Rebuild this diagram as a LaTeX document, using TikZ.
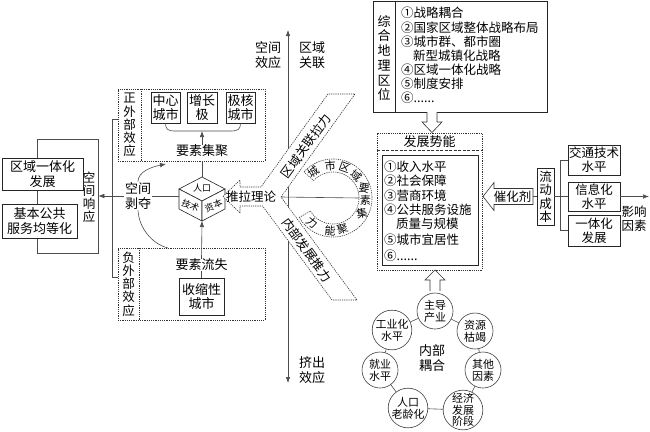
\documentclass[tikz,border=0pt]{standalone}
\usepackage{fontspec}
\setmainfont{Noto Sans CJK SC}
\usetikzlibrary{arrows.meta,calc}
\newcommand{\fA}{\fontsize{13}{14.5}\selectfont}
\newcommand{\fB}{\fontsize{12.5}{14}\selectfont}
\newcommand{\fC}{\fontsize{11}{12}\selectfont}
\newcommand{\fD}{\fontsize{9}{10}\selectfont}
\newcommand{\fV}{\fontsize{12.5}{13.2}\selectfont}
\begin{document}
\begin{tikzpicture}[x=1pt,y=-1pt,
  ln/.style={draw=black!70, line width=0.6pt},
  bx/.style={draw=black!85, line width=0.6pt, fill=white, inner sep=0pt, align=center, font=\fA},
  dotbox/.style={draw=black!80, line width=0.6pt, dash pattern=on 1.2pt off 1pt, inner sep=0pt},
  dotline/.style={draw=black!80, line width=0.6pt, dash pattern=on 1.2pt off 1pt},
  lbl/.style={inner sep=0pt, align=center, font=\fA},
  item/.style={inner sep=0pt, anchor=west, font=\fB},
  circ/.style={circle, draw=black!75, line width=0.6pt, minimum size=36pt, inner sep=0pt, align=center, font=\fC, fill=white},
  arr/.style={-{Latex[length=6pt,width=4.5pt]}},
  ring/.style={inner sep=0pt, font=\fC}
]
\useasboundingbox (0,0) rectangle (650,431);
\fill[white] (0,0) rectangle (650,431);

% ---------- left: spatial response ----------
\node[draw=black!70, line width=0.6pt, minimum width=61, minimum height=114, inner sep=0pt] (resp) at (67.5,196) {};
\node[bx, minimum width=81, minimum height=32] (b1) at (42.5,174) {区域一体化\\发展};
\node[bx, minimum width=75, minimum height=34] (b2) at (39.5,221) {基本公共\\服务均等化};
\node[lbl, font=\fontsize{12.5}{13}\selectfont] (kjxy) at (89,197) {空\\间\\响\\应};

% bracket joining positive / negative boxes
\coordinate (brT) at (118,119);
\coordinate (brB) at (118,277);
\draw[ln] (brT) -| (112,277) -- (brB);

% ---------- positive externality ----------
\node[dotbox, minimum width=147, minimum height=72] (pos) at (191.5,125) {};
\draw[dotline] (141,89) -- (141,161);
\node[lbl, font=\fV] (posl) at (129.5,125) {正\\外\\部\\效\\应};
\node[bx, minimum width=29, minimum height=31] (zx) at (165.5,107.5) {中心\\城市};
\node[bx, minimum width=30, minimum height=31] (zz) at (202,107.5) {增长\\极};
\node[bx, minimum width=29, minimum height=31] (jh) at (240.5,107.5) {极核\\城市};
\draw[ln] (zx.south) .. controls (165.5,129) and (168,131) .. (174,131) -- (232,131) .. controls (238,131) and (240.5,129) .. (jh.south);
\coordinate (brk) at (202,131);
\node[lbl] (jj) at (202,151) {要素集聚};
\draw[ln,arr] (jj.north) -- (brk);

% ---------- cube ----------
\coordinate (cT) at (202,177);
\coordinate (cUL) at (179,189);
\coordinate (cUR) at (225,189);
\coordinate (cM) at (202,201);
\coordinate (cLL) at (179,209);
\coordinate (cLR) at (225,209);
\coordinate (cB) at (202,221);
\coordinate (cL) at (179,196);
\coordinate (pb) at (202,161);
\draw[ln] (pb) -- (cT);
\draw[draw=black!85, line width=0.6pt, fill=white] (cT) -- (cUR) -- (cM) -- (cUL) -- cycle;
\draw[draw=black!85, line width=0.6pt, fill=white] (cUL) -- (cM) -- (cB) -- (cLL) -- cycle;
\draw[draw=black!85, line width=0.6pt, fill=white] (cM) -- (cUR) -- (cLR) -- (cB) -- cycle;
\node[inner sep=0pt, font=\fD] (rk) at (202,188.5) {人口};
\node[inner sep=0pt, font=\fD, rotate=-22] (js) at (190.5,205.5) {技术};
\node[inner sep=0pt, font=\fD, rotate=22] (zb) at (213.5,205.5) {资本};

% ---------- negative externality ----------
\node[dotbox, minimum width=147, minimum height=72] (neg) at (191.5,284) {};
\draw[dotline] (139,248) -- (139,320);
\node[lbl, font=\fV] (negl) at (128.5,284) {负\\外\\部\\效\\应};
\node[lbl] (ls) at (201.5,265) {要素流失};
\node[bx, minimum width=45, minimum height=37] (ss) at (201.5,296.5) {收缩性\\城市};
\draw[ln] (ls) -- (ss);
\draw[ln,arr] (ls.north) -- (cB);

% ---------- spatial deprivation ----------
\node[lbl, fill=white, inner sep=1pt] (sb) at (138,196) {空间\\剥夺};
\draw[ln] (cL) -- (sb);
\draw[ln,arr] (sb) -- (resp.east);
\coordinate (upT) at (166,164);
\coordinate (loT) at (168,248);
\draw[ln,arr] (sb.north) .. controls (138,172) and (151,167) .. (upT);
\draw[ln] (sb.south) .. controls (139,228) and (152,244) .. (loT);

% ---------- central axis ----------
\coordinate (axT) at (288,30);
\coordinate (axB) at (288,383);
\draw[ln,{Latex[length=6pt,width=4.5pt]}-{Latex[length=6pt,width=4.5pt]}] (axT) -- (axB);
\node[lbl] (kjxy2) at (268,55) {空间\\效应};
\node[lbl] (qygl) at (312,55) {区域\\关联};
\node[lbl] (jcxy) at (312,370) {挤出\\效应};

% ---------- push-pull bands ----------
\coordinate (A) at (281,197);
\draw[dotline, fill=white] (223,196.5) -- (240,180) -- (240,187) -- (261,187) -- (328,94) -- (355,94) -- (A)
  -- (357,300) -- (332,300) -- (262.6,206) -- (240,206) -- (240,213) -- cycle;
\node[inner sep=0pt, font=\fB] (tl) at (251,196.5) {推拉理论};
\node[inner sep=0pt, font=\fB, rotate=54] (glll) at (306,146) {区域关联拉力};
\node[inner sep=0pt, font=\fB, rotate=-54] (fzll) at (307,250) {内部发展推力};

% ---------- ring ----------
\draw[dotline, fill=white] plot[domain=-138:150, samples=80] ({333+39*cos(\x)},{198+39*sin(\x)})
  -- plot[domain=150:-138, samples=80] ({333+26*cos(\x)},{198+26*sin(\x)}) -- cycle;
\coordinate (ringR) at (359,198);
\draw[ln] (A) -- (ringR);
\node[ring, rotate=35] (r1) at (314.1,171.5) {城};
\node[ring, rotate=5] (r2) at (330.2,165.6) {市};
\node[ring, rotate=-20] (r3) at (344.6,167.7) {区};
\node[ring, rotate=-40] (r4) at (356.4,175.4) {域};
\node[ring, rotate=-8] (r5) at (364.1,188.5) {要};
\node[ring, rotate=0] (r6) at (365.4,200.3) {素};
\node[ring, rotate=12] (r7) at (362.0,212.8) {集};
\node[ring, rotate=17] (r8) at (342.5,229.1) {聚};
\node[ring, rotate=-5] (r9) at (330.2,230.4) {能};
\node[ring, rotate=-38] (r10) at (312.1,222.9) {力};

% ---------- comprehensive location ----------
\node[draw=black!85, line width=0.6pt, minimum width=174, minimum height=110.5, inner sep=0pt] (zh) at (460,56.75) {};
\draw[draw=black!85, line width=0.6pt] (395,1.5) -- (395,112);
\node[lbl, font=\fontsize{13}{14.7}\selectfont] (zhl) at (384,58) {综\\合\\地\\理\\区\\位};
\node[item] (i1) at (401,13) {①战略耦合};
\node[item] (i2) at (401,27.5) {②国家区域整体战略布局};
\node[item] (i3) at (401,42) {③城市群、都市圈};
\node[item] (i3b) at (413,55.5) {新型城镇化战略};
\node[item] (i4) at (401,70) {④区域一体化战略};
\node[item] (i5) at (401,84) {⑤制度安排};
\node[item] (i6) at (401,98) {⑥......};
\draw[draw=black!80, line width=0.6pt, fill=white] (427,112) -- (427,122) -- (422,122) -- (432,132.5) -- (442,122) -- (437,122) -- (437,112);

% ---------- development potential ----------
\node[dotbox, minimum width=105, minimum height=137] (fz) at (429.5,201.5) {};
\draw[draw=black!80, line width=0.9pt, dash pattern=on 3pt off 1.5pt] (377,150) -- (482,150);
\node[lbl] (fzt) at (429.5,142) {发展势能};
\node[draw=black!85, line width=0.6pt, minimum width=96, minimum height=110, inner sep=0pt] (fzi) at (430,210) {};
\node[item] (f1) at (384,167) {①收入水平};
\node[item] (f2) at (384,181) {②社会保障};
\node[item] (f3) at (384,195.5) {③营商环境};
\node[item] (f4) at (384,210) {④公共服务设施};
\node[item] (f4b) at (396,224) {质量与规模};
\node[item] (f5) at (384,240) {⑤城市宜居性};
\node[item] (f6) at (384,256) {⑥......};
\draw[draw=black!80, line width=0.6pt, fill=white] (430,291) -- (430,280) -- (425,280) -- (435,270) -- (445,280) -- (440,280) -- (440,291);

% ---------- catalyst ----------
\draw[draw=black!80, line width=0.6pt, fill=white] (483,196.5) -- (494,182.5) -- (494,188.5) -- (533,188.5) -- (533,204.5) -- (494,204.5) -- (494,210.5) -- cycle;
\node[inner sep=0pt, font=\fB] (chj) at (512.5,196.5) {催化剂};
\coordinate (chR) at (533,196.5);
\node[bx, font=\fontsize{12.5}{13.5}\selectfont, minimum width=17, minimum height=57] (ld) at (545.5,196.5) {流\\动\\成\\本};
\draw[ln] (chR) -- (ld);
\node[bx, font=\fB, minimum width=52, minimum height=30] (jt) at (594,160) {交通技术\\水平};
\node[bx, font=\fB, minimum width=52, minimum height=29] (xx) at (594,196.5) {信息化\\水平};
\node[bx, font=\fB, minimum width=52, minimum height=31] (yt) at (594,230.5) {一体化\\发展};
\draw[ln] (ld) -- (xx);
\draw[ln] (jt.west) -- (560,160) -- (560,230.5) -- (yt.west);
\coordinate (yxR) at (649,196.5);
\draw[ln,arr] (xx) -- (yxR);
\node[lbl, font=\fB] (yx) at (634,219) {影响\\因素};

% ---------- internal coupling ----------
\node[circ] (c1) at (435,311) {主导\\产业};
\node[circ] (c2) at (475,331) {资源\\枯竭};
\node[circ] (c3) at (483,370) {其他\\因素};
\node[circ, font=\fontsize{11}{11.5}\selectfont] (c4) at (463,410) {经济\\发展\\阶段};
\node[circ] (c5) at (408,408) {人口\\老龄化};
\node[circ] (c6) at (380,370) {就业\\水平};
\node[circ] (c7) at (392,330) {工业化\\水平};
\draw[ln] (c1) -- (c2) -- (c3) -- (c4) -- (c5) -- (c6) -- (c7) -- (c1);
\node[lbl] (nbou) at (432,358) {内部\\耦合};
\end{tikzpicture}
\end{document}
